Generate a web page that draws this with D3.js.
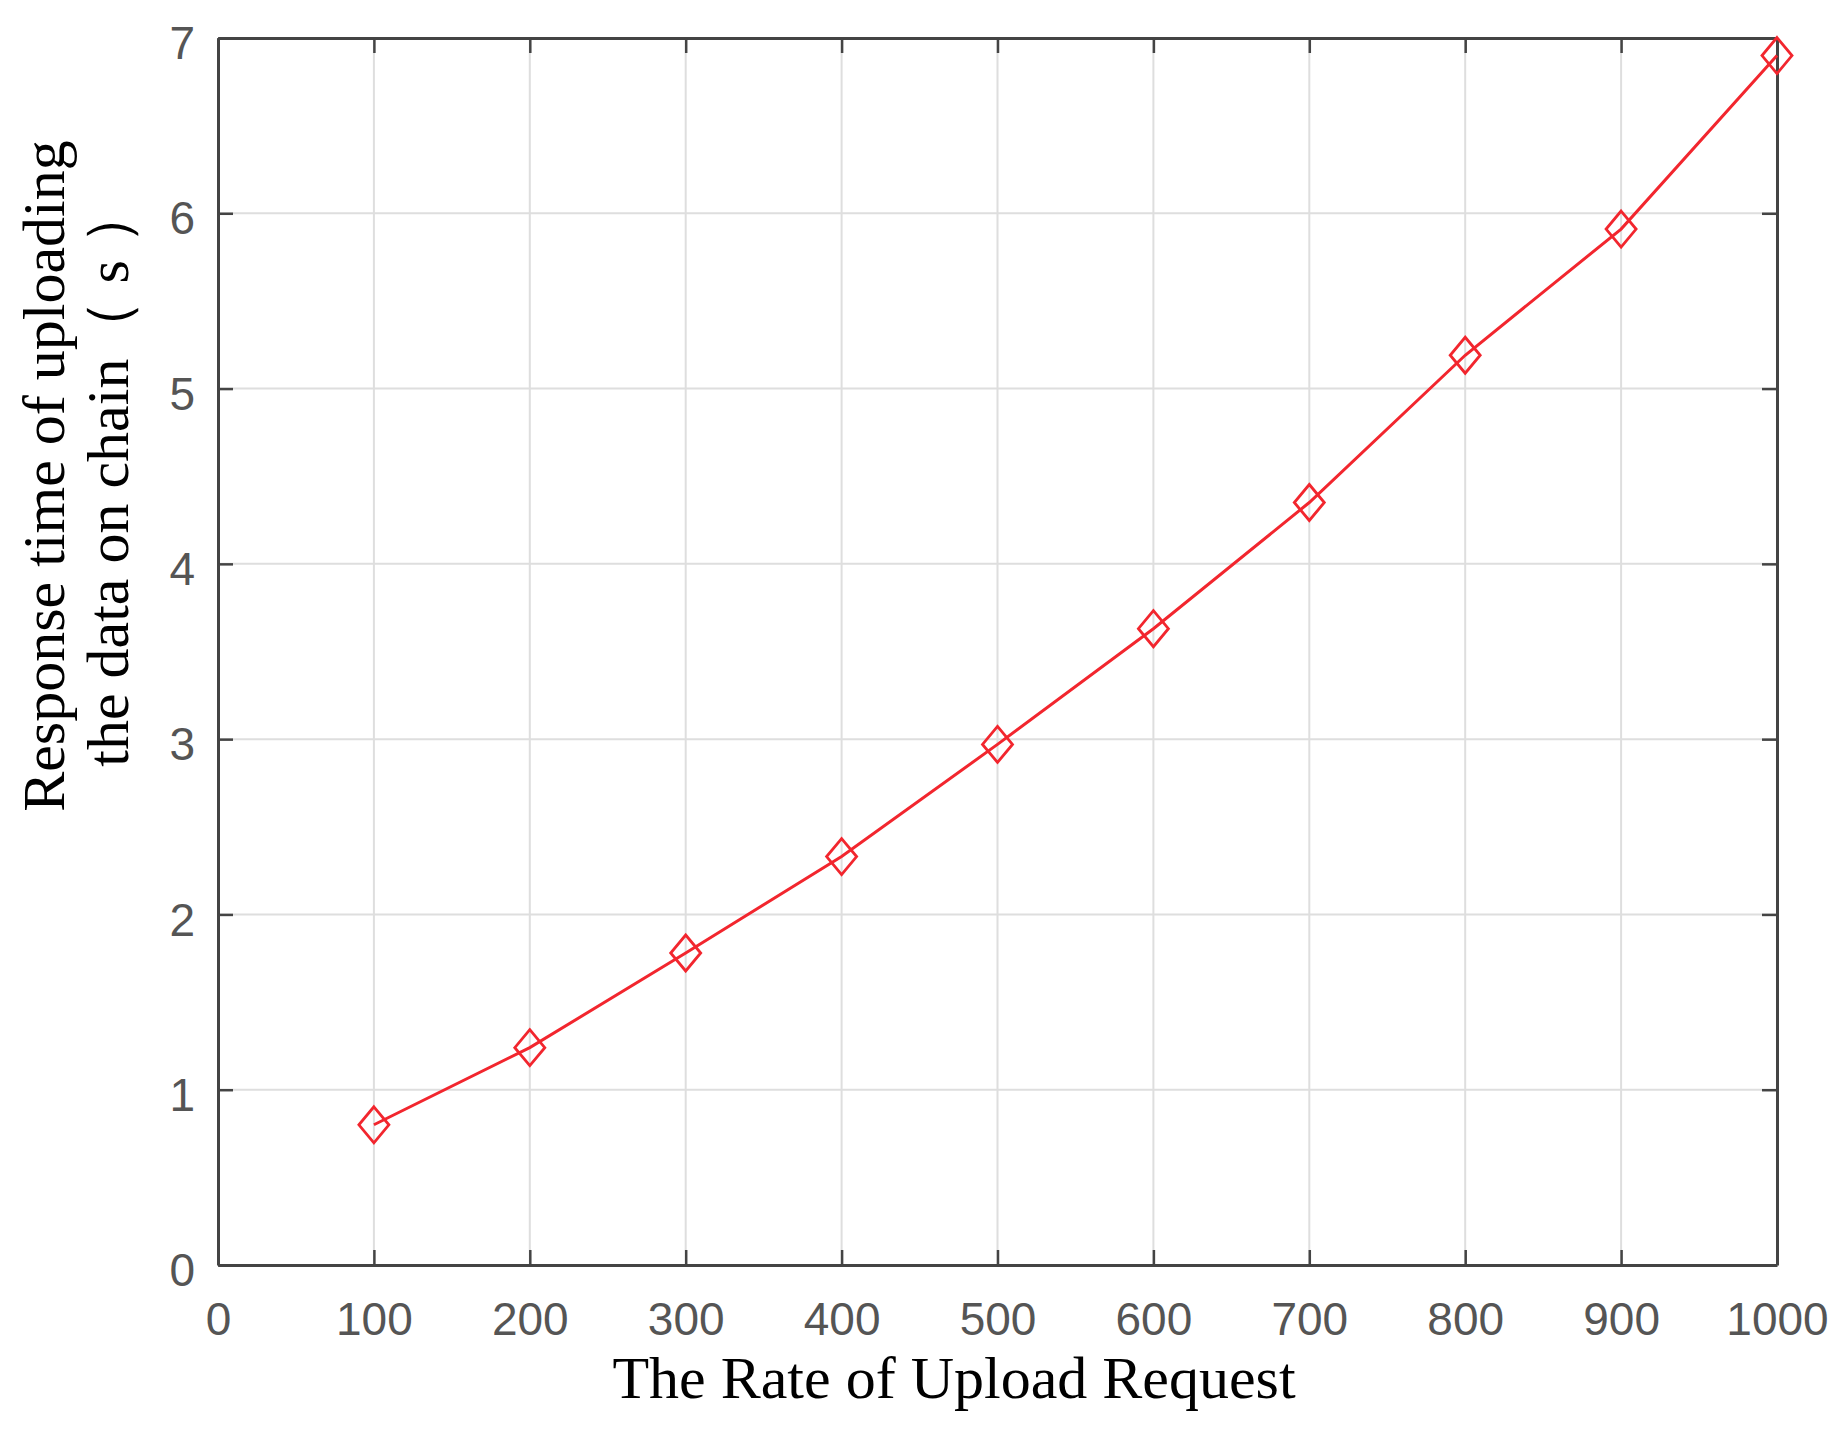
<!DOCTYPE html>
<html>
<head>
<meta charset="utf-8">
<script src="https://cdn.jsdelivr.net/npm/d3@7"></script>
<style>
  body { margin: 0; background: #fff; }
  .tick text { font-family: "Liberation Sans", Arial, sans-serif; fill: #555; }
</style>
</head>
<body>
<div id="chart"></div>
<script>
// upload rate vs response time on chain
var rates = [100, 200, 300, 400, 500, 600, 700, 800, 900, 1000];
var responseTimes = [0.80, 1.24, 1.78, 2.33, 2.97, 3.63, 4.35, 5.19, 5.91, 6.90];
var xTicks = [0, 100, 200, 300, 400, 500, 600, 700, 800, 900, 1000];
var yTicks = [0, 1, 2, 3, 4, 5, 6, 7];

var width = 1844, height = 1433;
var margin = {left: 218, right: 67, top: 38, bottom: 168};

var svg = d3.select("#chart").append("svg")
    .attr("width", width)
    .attr("height", height);

var x = d3.scaleLinear().domain([0, 1000]).range([margin.left, width - margin.right]);
var y = d3.scaleLinear().domain([0, 7]).range([height - margin.bottom, margin.top]);

// grid
svg.append("g").selectAll("line.vgrid")
    .data(xTicks.slice(1, -1))
    .enter().append("line")
        .attr("x1", function(d) { return x(d); })
        .attr("x2", function(d) { return x(d); })
        .attr("y1", y(0)).attr("y2", y(7))
        .attr("stroke", "#dedede").attr("stroke-width", 2);

svg.append("g").selectAll("line.hgrid")
    .data(yTicks.slice(1, -1))
    .enter().append("line")
        .attr("y1", function(d) { return y(d); })
        .attr("y2", function(d) { return y(d); })
        .attr("x1", x(0)).attr("x2", x(1000))
        .attr("stroke", "#dedede").attr("stroke-width", 2);

// axes (ticks pointing inward, box style)
var tickLen = 15;
var fmt = d3.format("d");
var xAxis = svg.append("g")
    .attr("transform", "translate(0," + y(0) + ")")
    .call(d3.axisBottom(x).tickValues(xTicks).tickFormat(fmt).tickSizeInner(-tickLen).tickSizeOuter(0).tickPadding(37));
var xAxisTop = svg.append("g")
    .attr("transform", "translate(0," + y(7) + ")")
    .call(d3.axisTop(x).tickValues(xTicks).tickSizeInner(-tickLen).tickSizeOuter(0).tickFormat(""));
var yAxis = svg.append("g")
    .attr("transform", "translate(" + x(0) + ",0)")
    .call(d3.axisLeft(y).tickValues(yTicks).tickFormat(fmt).tickSizeInner(-tickLen).tickSizeOuter(0).tickPadding(40));
var yAxisRight = svg.append("g")
    .attr("transform", "translate(" + x(1000) + ",0)")
    .call(d3.axisRight(y).tickValues(yTicks).tickSizeInner(-tickLen).tickSizeOuter(0).tickFormat(""));

[xAxis, xAxisTop, yAxis, yAxisRight].forEach(function(a) {
    a.select(".domain").attr("stroke", "#444").attr("stroke-width", 3);
    a.selectAll(".tick line").attr("stroke", "#444").attr("stroke-width", 2.5);
    a.selectAll(".tick text").style("font-size", "46px");
});
xAxis.selectAll(".tick text").attr("dy", "0.71em");
yAxis.selectAll(".tick text").attr("dx", "17px").attr("dy", "0.45em");

// line
var line = d3.line()
    .x(function(d, i) { return x(rates[i]); })
    .y(function(d) { return y(d); });

svg.append("path")
    .datum(responseTimes)
    .attr("d", line)
    .attr("fill", "none")
    .attr("stroke", "#f2262e")
    .attr("stroke-width", 3);

// diamond markers
svg.selectAll(".marker")
    .data(responseTimes)
    .enter().append("path")
        .attr("class", "marker")
        .attr("d", "M0,-18L15,0L0,18L-15,0Z")
        .attr("transform", function(d, i) { return "translate(" + x(rates[i]) + "," + y(d) + ")"; })
        .attr("fill", "none")
        .attr("stroke", "#f2262e")
        .attr("stroke-width", 2.8);

// axis titles
svg.append("text")
    .attr("x", 954).attr("y", 1398)
    .attr("text-anchor", "middle")
    .style("font-family", "'Liberation Serif', 'Times New Roman', serif")
    .style("font-size", "60px")
    .text("The Rate of Upload Request");

var yTitle = svg.append("text")
    .attr("transform", "translate(0,476) rotate(-90)")
    .attr("text-anchor", "middle")
    .style("font-family", "'Liberation Serif', 'Times New Roman', serif")
    .style("font-size", "60px");
yTitle.append("tspan").attr("x", 0).attr("y", 64).text("Response time of uploading");
yTitle.append("tspan").attr("x", 0).attr("y", 128).text("the data on chain\uFF08 s \uFF09");
</script>
</body>
</html>
